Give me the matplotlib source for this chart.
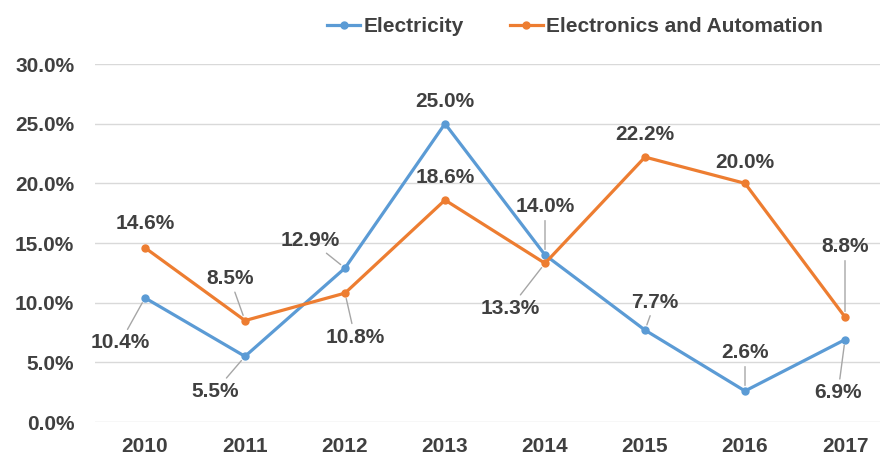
import matplotlib.pyplot as plt
from matplotlib.ticker import FuncFormatter

plt.rcParams["font.family"] = ["Liberation Sans", "DejaVu Sans"]
plt.rcParams["font.weight"] = "bold"

# =============================
# DATA
# =============================
years = ["2010", "2011", "2012", "2013", "2014", "2015", "2016", "2017"]
electricity = [10.4, 5.5, 12.9, 25.0, 14.0, 7.7, 2.6, 6.9]
automation = [14.6, 8.5, 10.8, 18.6, 13.3, 22.2, 20.0, 8.8]

# label offsets in pixels (dx, dy) and whether a leader line is drawn
elec_offsets = [(-25, -45), (-30, -35), (-35, 28), (0, 22), (0, 48), (10, 28), (0, 38), (-7, -53)]
elec_leader = [True, True, True, False, True, True, True, True]
auto_offsets = [(0, 24), (-15, 42), (10, -44), (0, 23), (-35, -45), (0, 23), (0, 21), (0, 70)]
auto_leader = [False, True, True, False, True, False, False, True]

BLUE = "#5B9BD5"
ORANGE = "#ED7D31"
TEXT = "#404040"
FS = 15

fig = plt.figure(figsize=(8.8, 4.57), dpi=100)
ax = fig.add_axes([95 / 880, 1 - 422 / 457, 785 / 880, 358 / 457])

x = range(len(years))
ax.plot(x, electricity, color=BLUE, lw=2.3, marker="o", ms=5, label="Electricity", zorder=3)
ax.plot(x, automation, color=ORANGE, lw=2.3, marker="o", ms=5,
        label="Electronics and Automation", zorder=3)


def add_labels(values, offsets, leaders):
    for i, v in enumerate(values):
        dx, dy = offsets[i]
        props = None
        if leaders[i]:
            props = dict(arrowstyle="-", color="#A6A6A6", lw=1, shrinkA=1, shrinkB=4)
        ax.annotate(f"{v:.1f}%", (i, v), xytext=(dx, dy), textcoords="offset pixels",
                    ha="center", va="center", fontsize=FS, fontweight="bold",
                    color=TEXT, arrowprops=props, zorder=4)


add_labels(electricity, elec_offsets, elec_leader)
add_labels(automation, auto_offsets, auto_leader)

ax.set_xlim(-0.5, 7.35)
ax.set_ylim(0, 30)
ax.set_yticks([0, 5, 10, 15, 20, 25, 30])
ax.yaxis.set_major_formatter(FuncFormatter(lambda v, p: f"{v:.1f}%"))
ax.set_xticks(list(x))
ax.set_xticklabels(years)
ax.tick_params(length=0, labelsize=FS, labelcolor=TEXT, pad=11)
ax.tick_params(axis="y", pad=15)
for lbl in ax.get_xticklabels() + ax.get_yticklabels():
    lbl.set_fontweight("bold")

ax.grid(axis="y", color="#D9D9D9", lw=1)
ax.set_axisbelow(True)
for s in ax.spines.values():
    s.set_visible(False)

leg = fig.legend(loc="center", bbox_to_anchor=(575 / 880, 1 - 27 / 457), ncol=2,
                 frameon=False, fontsize=FS, handlelength=1.6, columnspacing=2.2,
                 handletextpad=0.15)
for t in leg.get_texts():
    t.set_color(TEXT)
    t.set_fontweight("bold")

fig.savefig("out.png", dpi=100)
